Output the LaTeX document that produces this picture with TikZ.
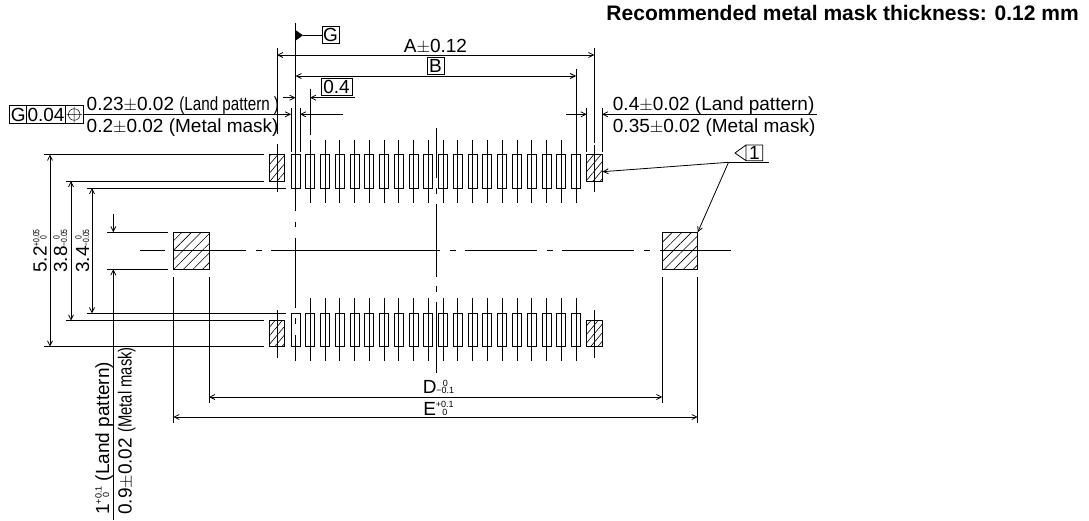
\documentclass[tikz,border=0pt]{standalone}
\usepackage{fontspec}
\setmainfont{Liberation Sans}
\usetikzlibrary{arrows.meta,patterns.meta}
\tikzset{
  dimline/.style={line width=0.8pt,{Straight Barb[length=5pt,width=5pt]}-{Straight Barb[length=5pt,width=5pt]}},
  dimto/.style={line width=0.8pt,-{Straight Barb[length=5pt,width=5pt]}},
  extline/.style={line width=0.8pt},
  padbox/.style={draw,line width=0.8pt},
  hatchsmall/.style={draw,line width=0.8pt,pattern={Lines[angle=50,distance=5.5pt,line width=0.6pt]}},
  hatchbig/.style={draw,line width=0.8pt,pattern={Lines[angle=45,distance=6.8pt,line width=0.6pt]}},
  tagbox/.style={draw,line width=0.8pt,inner sep=0pt,minimum height=17pt,font=\fontsize{19}{19}\selectfont},
  dimtext/.style={inner sep=0pt,font=\fontsize{19}{19}\selectfont},
}
\newcommand{\tolstack}[2]{{\fontsize{9}{7.3}\selectfont\vbox{\lineskiplimit=-10pt\halign{\hfil##\hfil\cr#1\cr#2\cr}}}}
\begin{document}
\begin{tikzpicture}[x=1pt,y=-1pt]
  \useasboundingbox (0,0) rectangle (1089,520);
  % Title
  \node[anchor=base east,inner sep=0pt,font=\fontsize{21}{21}\selectfont\bfseries] (title) at (1079,20.5) {Recommended metal mask thickness: 0.12 mm};
  % Land pads, upper and lower row
  \foreach \i in {0,...,19} {
    \pgfmathsetmacro{\px}{295.5+\i*14.76}
    \draw[padbox] (\px-4.5,154.5) rectangle (\px+4.5,188);
    \draw[padbox] (\px-4.5,313.3) rectangle (\px+4.5,346.7);
    \ifnum\i>0
      \draw[extline] (\px,140) -- (\px,203);
      \draw[extline] (\px,298) -- (\px,361);
    \fi
  }
  % Hatched pads
  \draw[hatchsmall] (269.5,154.5) rectangle (284.7,181);
  \draw[hatchsmall] (586.5,154.5) rectangle (602,181);
  \draw[hatchsmall] (269.5,320.7) rectangle (284.7,346.7);
  \draw[hatchsmall] (586.5,320.7) rectangle (602,346.7);
  \draw[hatchbig] (173.3,232.3) rectangle (209,269.3);
  \draw[hatchbig] (662.3,232.3) rectangle (697.7,269.3);
  % Centre lines
  \draw[extline] (140,250.7) -- (165,250.7) (173,250.7) -- (246,250.7) (256,250.7) -- (262,250.7)
    (271,250.7) -- (440,250.7) (450,250.7) -- (456,250.7) (465,250.7) -- (537,250.7)
    (547,250.7) -- (553,250.7) (562,250.7) -- (634,250.7) (644,250.7) -- (650,250.7) (660,250.7) -- (731,250.7);
  \draw[extline] (295.5,23) -- (295.5,211) (295.5,222) -- (295.5,227) (295.5,238) -- (295.5,308)
    (295.5,318) -- (295.5,324) (295.5,335) -- (295.5,361);
  \draw[extline] (436,128) -- (436,178) (436,188) -- (436,194) (436,204) -- (436,277)
    (436,286) -- (436,292) (436,302) -- (436,373);
  % Datum G
  \fill (295.5,30) -- (303,35.3) -- (295.5,40.7) -- cycle;
  \node[tagbox,minimum width=17pt] (datumG) at (330.5,35.3) {G};
  \coordinate (datumfoot) at (303,35.3);
  \draw[extline] (datumfoot) -- (datumG);
  % Dimensions A and B
  \draw[extline] (277,48) -- (277,134) (277,144) -- (277,192) (277,310) -- (277,358);
  \draw[extline] (594.3,48) -- (594.3,143) (594.3,145) -- (594.3,192) (594.3,310) -- (594.3,358);
  \draw[extline] (576,69) -- (576,143);
  \draw[dimline] (277,55) -- (594.3,55);
  \draw[dimline] (295.5,76) -- (576,76);
  \node[dimtext,anchor=base] (dimA) at (435.5,52.3) {A$\pm$0.12};
  \node[tagbox,minimum width=17pt] (dimB) at (435.5,66) {B};
  % Pitch 0.4
  \node[tagbox,minimum width=31pt] (pitch) at (336.5,87) {0.4};
  \draw[extline] (310,89) -- (310,135);
  \draw[extline] (291,108) -- (291,152) (300,108) -- (300,152);
  \draw[dimto] (283,97.7) -- (295.5,97.7);
  \draw[dimto] (355,97.7) -- (310,97.7);
  % Tolerance frame and pad width
  \draw[line width=0.8pt] (9.7,105.7) rectangle (83,123.3) (26.7,105.7) -- (26.7,123.3) (65.5,105.7) -- (65.5,123.3);
  \node[dimtext] (frameG) at (18.2,114.5) {G};
  \node[dimtext] (frameval) at (46,114.5) {0.04};
  \draw[line width=0.5pt] (74.2,114.5) circle (5.8pt) (66.5,114.5) -- (82,114.5) (74.2,106.5) -- (74.2,122.5);
  \draw[dimto] (83,114.3) -- (291,114.3);
  \draw[dimto] (343,114.3) -- (300,114.3);
  \node[dimtext,anchor=base west] (landleft) at (86.5,110.5) {0.23$\pm$0.02 \scalebox{0.8}[1]{(Land pattern )}};
  \node[dimtext,anchor=base west] (maskleft) at (86.5,132) {0.2$\pm$0.02 (Metal mask)};
  % Right pad width
  \draw[extline] (586.7,108) -- (586.7,152) (602,108) -- (602,152);
  \draw[dimto] (566,114.3) -- (586.7,114.3);
  \draw[dimto] (816.7,114.3) -- (602,114.3);
  \node[dimtext,anchor=base west] (landright) at (612.7,110.5) {0.4$\pm$0.02 (Land pattern)};
  \node[dimtext,anchor=base west] (maskright) at (612.7,132) {0.35$\pm$0.02 (Metal mask)};
  % Note 1
  \draw[line width=0.8pt] (735,153) -- (746,145) -- (762.7,145) -- (762.7,160.7) -- (746,160.7) -- cycle (746,145) -- (746,160.7);
  \node[dimtext] (noteone) at (754.5,153) {1};
  \coordinate (noteroot) at (728.5,162.3);
  \coordinate (noteend) at (769,162.3);
  \coordinate (hatchupper) at (602.5,171.7);
  \coordinate (hatchmid) at (697.7,232.3);
  \draw[extline] (noteroot) -- (noteend);
  \draw[dimto] (noteroot) -- (hatchupper);
  \draw[dimto] (noteroot) -- (hatchmid);
  % Left dimensions
  \foreach \ya/\xa/\xb in {154.5/44/264,181/66/264,188/87/286,313.3/87/286,320.7/66/264,346.7/44/264} {
    \draw[extline] (\xa,\ya) -- (\xb,\ya);
  }
  \draw[dimline] (50,154.5) -- (50,346.7);
  \draw[dimline] (71,181) -- (71,320.7);
  \draw[dimline] (92,188) -- (92,313.3);
  \node[dimtext,rotate=90,anchor=base] (dimfive) at (46.7,251) {5.2\scalebox{0.75}[1]{\tolstack{+0.05}{0}}};
  \node[dimtext,rotate=90,anchor=base] (dimthree) at (67,251) {3.8\scalebox{0.75}[1]{\tolstack{0}{−0.05}}};
  \node[dimtext,rotate=90,anchor=base] (dimfour) at (89,251) {3.4\scalebox{0.75}[1]{\tolstack{0}{−0.05}}};
  % Middle pad height
  \draw[extline] (107,232.3) -- (168,232.3) (107,269.3) -- (168,269.3);
  \draw[dimto] (113.3,214) -- (113.3,232.3);
  \draw[dimto] (113.3,520) -- (113.3,269.3);
  \node[dimtext,rotate=90,anchor=base west] (landbottom) at (109,515) {1\tolstack{+0.1}{0} (Land pattern)};
  \node[dimtext,rotate=90,anchor=base west] (maskbottom) at (131.5,515) {0.9$\pm$0.02 \scalebox{0.78}[1]{(Metal mask)}};
  % Dimensions D and E
  \draw[extline] (173.3,277) -- (173.3,423) (209,277) -- (209,403);
  \draw[extline] (662.3,277) -- (662.3,403) (697.7,277) -- (697.7,423);
  \draw[dimline] (209,397) -- (662.3,397);
  \draw[dimline] (173.3,417) -- (697.7,417);
  \node[dimtext,anchor=base] (dimD) at (438.5,393.5) {D\tolstack{0}{−0.1}};
  \node[dimtext,anchor=base] (dimE) at (438.5,415) {E\tolstack{+0.1}{0}};
\end{tikzpicture}
\end{document}
